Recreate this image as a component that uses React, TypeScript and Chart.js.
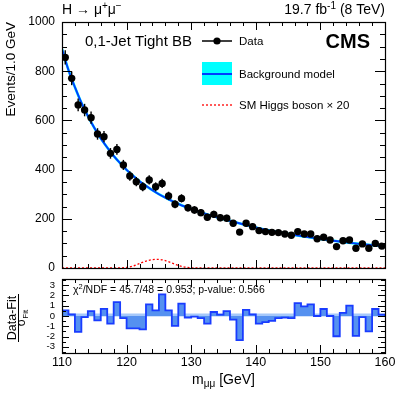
import React, { useEffect, useRef } from "react";
import { Chart, registerables } from "chart.js";

Chart.register(...registerables);

const FONT = '"Liberation Sans", Arial, Helvetica, sans-serif';

// ---- data ----
const binEdges = [
  110, 111, 112, 113, 114, 115, 116, 117, 118, 119, 120, 121, 122, 123, 124, 125, 126,
  127, 128, 129, 130, 131, 132, 133, 134, 135, 136, 137, 138, 139, 140, 141, 142, 143,
  144, 145, 146, 147, 148, 149, 150, 151, 152, 153, 154, 155, 156, 157, 158, 159, 160,
];
const eventCounts = [
  856, 771, 663, 642, 611, 545, 534, 466, 482, 419,
  374, 351, 330, 358, 330, 344, 293, 259, 283, 245,
  236, 225, 206, 218, 204, 202, 182, 146, 182, 168,
  152, 148, 145, 144, 138, 133, 148, 138, 138, 119,
  125, 114, 87, 111, 114, 80, 98, 80, 100, 89,
];
const pullValues = [
  0.55, 0.16, -1.55, -0.1, 0.48, -0.42, 0.7, -0.74, 1.35, -0.2,
  -1.2, -1.2, -1.3, 1.13, 0.55, 2.1, 0.55, -0.97, 1.2, -0.16,
  -0.06, -0.2, -0.74, 0.39, 0.13, 0.48, -0.35, -2.35, 0.6, 0.16,
  -0.74, -0.6, -0.48, -0.2, -0.16, -0.2, 1.26, 0.94, 1.13, 0.0,
  0.68, 0.0, -1.97, 0.3, 1.0, -1.94, -0.1, -1.5, 0.68, 0.13,
];
const bkgMass = [
  110, 111, 112, 113, 114, 115, 116, 117, 118, 119, 120, 121, 122, 123, 124, 125, 126,
  127, 128, 129, 130, 132, 134, 136, 138, 140, 142, 144, 146, 148, 150, 152, 154, 156, 158, 160,
];
const bkgEvents = [
  890, 805, 735, 672, 618, 570, 527, 490, 456, 426, 399, 375, 353, 334, 316, 300, 286,
  273, 261, 250, 240, 222, 206, 192, 178, 165, 153, 143, 134, 126, 118, 111, 104, 98, 93, 88,
];
const sigMass = [110, 115, 119, 120, 121, 122, 123, 124, 125, 126, 127, 128, 129, 130, 131, 135, 160];
const sigEvents = [0, 0, 0.5, 2, 8, 18, 28, 34, 35, 30, 20, 10, 4, 1, 0.2, 0, 0];

const xTickValues = [110, 120, 130, 140, 150, 160];
const yTickValuesTop = [0, 200, 400, 600, 800, 1000];
const yTickValuesPull = [-3, -2, -1, 0, 1, 2, 3];

// ---- helpers ----
type Part = { t: string; size: number; dy?: number; weight?: string };

function setFont(ctx: CanvasRenderingContext2D, p: Part) {
  ctx.font = `${p.weight || "normal"} ${p.size}px ${FONT}`;
}
function drawRich(
  ctx: CanvasRenderingContext2D,
  x: number,
  y: number,
  parts: Part[],
  align: "left" | "right" | "center"
) {
  let w = 0;
  for (const p of parts) {
    setFont(ctx, p);
    w += ctx.measureText(p.t).width;
  }
  let cx = align === "left" ? x : align === "right" ? x - w : x - w / 2;
  ctx.textAlign = "left";
  ctx.textBaseline = "alphabetic";
  for (const p of parts) {
    setFont(ctx, p);
    ctx.fillText(p.t, cx, y + (p.dy || 0));
    cx += ctx.measureText(p.t).width;
  }
}

function seg(ctx: CanvasRenderingContext2D, x1: number, y1: number, x2: number, y2: number) {
  ctx.beginPath();
  ctx.moveTo(x1, y1);
  ctx.lineTo(x2, y2);
  ctx.stroke();
}

function drawFrame(chart: any, cfg: any) {
  const ctx: CanvasRenderingContext2D = chart.ctx;
  const a = chart.chartArea;
  const xs = chart.scales.x;
  const ys = chart.scales.y;
  ctx.save();
  ctx.strokeStyle = "#000";
  ctx.lineWidth = 1.2;
  ctx.strokeRect(Math.round(a.left) + 0.5, Math.round(a.top) + 0.5, Math.round(a.right - a.left), Math.round(a.bottom - a.top));
  ctx.lineWidth = 1;
  const eps = 1e-6;
  for (let v = xs.min; v <= xs.max + eps; v += cfg.xMinor) {
    const px = Math.round(xs.getPixelForValue(v)) + 0.5;
    const r = v / cfg.xMajor;
    const major = Math.abs(r - Math.round(r)) < eps;
    const len = major ? cfg.xMajorLen : cfg.xMinorLen;
    seg(ctx, px, a.bottom, px, a.bottom - len);
    seg(ctx, px, a.top, px, a.top + len);
  }
  const start = Math.ceil(ys.min / cfg.yMinor - eps) * cfg.yMinor;
  for (let v = start; v <= ys.max + eps; v += cfg.yMinor) {
    const py = Math.round(ys.getPixelForValue(v)) + 0.5;
    const r = v / cfg.yMajor;
    const major = Math.abs(r - Math.round(r)) < eps;
    const len = major ? cfg.yMajorLen : cfg.yMinorLen;
    seg(ctx, a.left, py, a.left + len, py);
    seg(ctx, a.right, py, a.right - len, py);
  }
  ctx.restore();
}

const binCenters = binEdges.slice(0, -1).map((lo, i) => (lo + binEdges[i + 1]) / 2);

const topPlugin = {
  id: "topDecor",
  afterDatasetsDraw(chart: any) {
    const ctx: CanvasRenderingContext2D = chart.ctx;
    const xs = chart.scales.x;
    const ys = chart.scales.y;
    ctx.save();
    ctx.strokeStyle = "#000";
    ctx.lineWidth = 1.4;
    eventCounts.forEach((n, i) => {
      const px = xs.getPixelForValue(binCenters[i]);
      const e = Math.sqrt(n);
      seg(ctx, px, ys.getPixelForValue(n - e), px, ys.getPixelForValue(n + e));
    });
    ctx.restore();
  },
  afterDraw(chart: any) {
    const ctx: CanvasRenderingContext2D = chart.ctx;
    drawFrame(chart, {
      xMinor: 2, xMajor: 10, xMajorLen: 8, xMinorLen: 4,
      yMinor: 50, yMajor: 200, yMajorLen: 10, yMinorLen: 5,
    });
    ctx.save();
    ctx.fillStyle = "#000";
    drawRich(ctx, 62, 14, [
      { t: "H → μ", size: 14 },
      { t: "+", size: 10, dy: -5 },
      { t: "μ", size: 14 },
      { t: "−", size: 10, dy: -5 },
    ], "left");
    drawRich(ctx, 385, 14, [
      { t: "19.7 fb", size: 14 },
      { t: "-1", size: 10, dy: -5 },
      { t: " (8 TeV)", size: 14 },
    ], "right");
    drawRich(ctx, 85, 45.5, [{ t: "0,1-Jet Tight BB", size: 15 }], "left");
    drawRich(ctx, 370, 48, [{ t: "CMS", size: 20, weight: "bold" }], "right");

    // legend
    ctx.strokeStyle = "#000";
    ctx.lineWidth = 1.5;
    seg(ctx, 202, 41, 232, 41);
    ctx.beginPath();
    ctx.arc(217, 41, 3.6, 0, Math.PI * 2);
    ctx.fill();
    drawRich(ctx, 239, 45, [{ t: "Data", size: 11.5 }], "left");

    ctx.fillStyle = "#00ffff";
    ctx.fillRect(202, 62, 30, 23);
    ctx.strokeStyle = "rgb(0,60,255)";
    ctx.lineWidth = 2;
    seg(ctx, 202, 74, 232, 74);
    ctx.fillStyle = "#000";
    drawRich(ctx, 239, 78, [{ t: "Background model", size: 11.5 }], "left");

    ctx.strokeStyle = "#ff0000";
    ctx.lineWidth = 1.3;
    ctx.setLineDash([2, 2]);
    seg(ctx, 202, 105, 232, 105);
    ctx.setLineDash([]);
    drawRich(ctx, 239, 109, [{ t: "SM Higgs boson × 20", size: 11.5 }], "left");
    ctx.restore();
  },
};

const bottomPlugin = {
  id: "bottomDecor",
  beforeDatasetsDraw(chart: any) {
    const ctx: CanvasRenderingContext2D = chart.ctx;
    const a = chart.chartArea;
    const y0 = chart.scales.y.getPixelForValue(0);
    ctx.save();
    ctx.fillStyle = "rgb(165,200,250)";
    ctx.fillRect(a.left, y0 - 2.5, a.right - a.left, 3);
    ctx.restore();
  },
  afterDraw(chart: any) {
    const ctx: CanvasRenderingContext2D = chart.ctx;
    drawFrame(chart, {
      xMinor: 2, xMajor: 10, xMajorLen: 8, xMinorLen: 4,
      yMinor: 0.5, yMajor: 1, yMajorLen: 7, yMinorLen: 4,
    });
    ctx.save();
    ctx.fillStyle = "#000";
    drawRich(ctx, 73, 17.5, [
      { t: "χ", size: 10.5 },
      { t: "2", size: 7.5, dy: -4 },
      { t: "/NDF = 45.7/48 = 0.953; p-value: 0.566", size: 10.5 },
    ], "left");
    drawRich(ctx, 223.5, 109, [
      { t: "m", size: 14 },
      { t: "μμ", size: 10, dy: 3 },
      { t: " [GeV]", size: 14 },
    ], "center");
    // y title as a fraction
    ctx.save();
    ctx.translate(18.5, 43);
    ctx.rotate(-Math.PI / 2);
    drawRich(ctx, 0, -2.5, [{ t: "Data-Fit", size: 12.5 }], "center");
    drawRich(ctx, 0, 6.5, [
      { t: "σ", size: 12 },
      { t: "Fit", size: 8, dy: 3 },
    ], "center");
    ctx.restore();
    ctx.strokeStyle = "#000";
    ctx.lineWidth = 1;
    seg(ctx, 18.5, 19, 18.5, 67);
    ctx.restore();
  },
};

export default function App() {
  const topRef = useRef<HTMLCanvasElement>(null);
  const botRef = useRef<HTMLCanvasElement>(null);

  useEffect(() => {
    const dataPts = eventCounts.map((n, i) => ({ x: binCenters[i], y: n }));
    const bkgPts = bkgMass.map((m, i) => ({ x: m, y: bkgEvents[i] }));
    const sigPts = sigMass.map((m, i) => ({ x: m, y: sigEvents[i] }));
    const stepPts: { x: number; y: number }[] = [{ x: binEdges[0], y: 0 }];
    pullValues.forEach((p, i) => {
      stepPts.push({ x: binEdges[i], y: p });
      stepPts.push({ x: binEdges[i + 1], y: p });
    });
    stepPts.push({ x: binEdges[binEdges.length - 1], y: 0 });

    const tickFont = (size: number) => ({ family: FONT, size, lineHeight: 1 });
    const plainLabel = (v: any) => String(v);
    const noPadY = (s: any, w: number) => {
      s.width = w;
      s.paddingTop = 0;
      s.paddingBottom = 0;
    };
    const noPadX = (s: any, h: number) => {
      s.height = h;
      s.paddingLeft = 0;
      s.paddingRight = 0;
    };

    const top = new Chart(topRef.current!, {
      type: "line",
      data: {
        datasets: [
          {
            label: "Data",
            data: dataPts,
            showLine: false,
            pointRadius: 3.7,
            pointBackgroundColor: "#000",
            pointBorderColor: "#000",
            pointBorderWidth: 0,
          },
          {
            label: "Background model",
            data: bkgPts,
            borderColor: "rgb(0,60,255)",
            borderWidth: 1.9,
            pointRadius: 0,
            cubicInterpolationMode: "monotone",
            fill: false,
          },
          {
            label: "Background band",
            data: bkgPts,
            borderColor: "#00ffff",
            borderWidth: 2.6,
            pointRadius: 0,
            cubicInterpolationMode: "monotone",
            fill: false,
          },
          {
            label: "SM Higgs",
            data: sigPts,
            borderColor: "#ff0000",
            borderWidth: 1.3,
            borderDash: [2, 2],
            pointRadius: 0,
            cubicInterpolationMode: "monotone",
            fill: false,
          },
        ],
      },
      options: {
        responsive: false,
        animation: false,
        layout: { padding: { top: 22, right: 22, bottom: 7, left: 0 } },
        plugins: { legend: { display: false }, tooltip: { enabled: false } },
        scales: {
          x: { type: "linear", min: 110, max: 160, display: false },
          y: {
            type: "linear",
            min: 0,
            max: 1000,
            afterBuildTicks: (s: any) => {
              s.ticks = yTickValuesTop.map((v) => ({ value: v }));
            },
            afterFit: (s: any) => noPadY(s, 62),
            grid: { display: false, drawTicks: false },
            border: { display: false },
            ticks: { font: tickFont(12), color: "#000", padding: 7, autoSkip: false, callback: plainLabel },
            title: {
              display: true,
              text: "Events/1.0 GeV",
              align: "end",
              color: "#000",
              font: { family: FONT, size: 13.5 },
              padding: { top: 3, bottom: 0 },
            },
          },
        },
      },
      plugins: [topPlugin],
    } as any);

    const bot = new Chart(botRef.current!, {
      type: "line",
      data: {
        datasets: [
          {
            label: "Pull",
            data: stepPts,
            borderColor: "rgb(25,60,255)",
            backgroundColor: "rgb(85,145,240)",
            borderWidth: 1.8,
            pointRadius: 0,
            fill: "origin",
            tension: 0,
          },
        ],
      },
      options: {
        responsive: false,
        animation: false,
        layout: { padding: { top: 4, right: 22, bottom: 0, left: 0 } },
        plugins: { legend: { display: false }, tooltip: { enabled: false } },
        scales: {
          x: {
            type: "linear",
            min: 110,
            max: 160,
            afterBuildTicks: (s: any) => {
              s.ticks = xTickValues.map((v) => ({ value: v }));
            },
            afterFit: (s: any) => noPadX(s, 40),
            grid: { display: false, drawTicks: false },
            border: { display: false },
            ticks: { font: tickFont(12.5), color: "#000", padding: 3, maxRotation: 0, autoSkip: false, callback: plainLabel },
          },
          y: {
            type: "linear",
            min: -3.6,
            max: 3.6,
            afterBuildTicks: (s: any) => {
              s.ticks = yTickValuesPull.map((v) => ({ value: v }));
            },
            afterFit: (s: any) => noPadY(s, 62),
            grid: { display: false, drawTicks: false },
            border: { display: false },
            ticks: { font: tickFont(9.5), color: "#000", padding: 7, autoSkip: false, callback: plainLabel },
          },
        },
      },
      plugins: [bottomPlugin],
    } as any);

    return () => {
      top.destroy();
      bot.destroy();
    };
  }, []);

  return (
    <div style={{ position: "absolute", left: 0, top: 0, width: 407, height: 393, background: "#fff" }}>
      <canvas
        ref={topRef}
        width={407}
        height={275}
        style={{ position: "absolute", left: 0, top: 0, display: "block" }}
      />
      <canvas
        ref={botRef}
        width={407}
        height={118}
        style={{ position: "absolute", left: 0, top: 275, display: "block" }}
      />
    </div>
  );
}
